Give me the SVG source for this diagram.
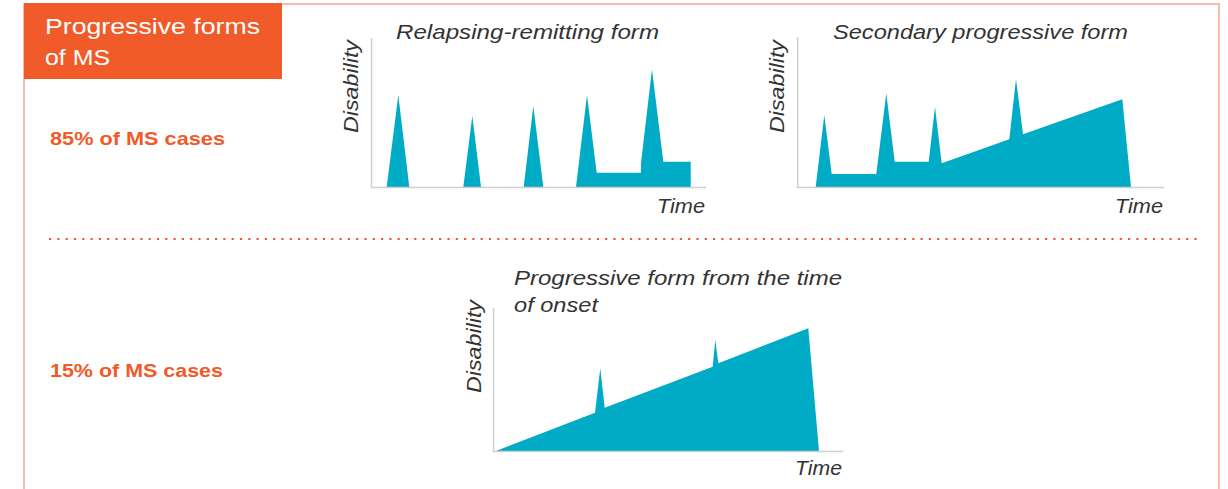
<svg xmlns="http://www.w3.org/2000/svg" width="1228" height="489" viewBox="0 0 1228 489">
<style>
.lbl{font-family:"Liberation Sans",Arial,sans-serif;font-style:italic;font-size:21px;fill:#333;}
.pct{font-family:"Liberation Sans",Arial,sans-serif;font-weight:bold;font-size:19px;fill:#F15A29;}
.hdr{font-family:"Liberation Sans",Arial,sans-serif;font-size:22px;fill:#fff;}
.axis{fill:none;stroke:#cfcfcf;stroke-width:1.5;}
.area{fill:#00ACC5;}
</style>
<rect width="1228" height="489" fill="#fff"/>
<g id="frame" fill="none" stroke="#F6A88C" stroke-width="1.5">
<path d="M24,489 V4 H1219 V489"/>
</g>
<g id="header">
<rect x="24" y="3" width="258" height="76" fill="#F15A29"/>
<text class="hdr" x="45" y="34" textLength="215" lengthAdjust="spacingAndGlyphs">Progressive forms</text>
<text class="hdr" x="45" y="65" textLength="65" lengthAdjust="spacingAndGlyphs">of MS</text>
</g>
<g id="divider">
<line x1="49" y1="239" x2="1197" y2="239" stroke="#F15A29" stroke-width="2.2" stroke-dasharray="2.2 6.1"/>
</g>
<text class="pct" x="50" y="145" textLength="175" lengthAdjust="spacingAndGlyphs">85% of MS cases</text>
<text class="pct" x="50" y="377" textLength="173" lengthAdjust="spacingAndGlyphs">15% of MS cases</text>
<g id="chart-rr">
<path class="area" d="M386.7,187 L398.3,95 L409.3,187 Z M463.3,187 L472.3,116 L481,187 Z M523.7,187 L533.3,106 L543.3,187 Z M576,187 L587,95 L596.7,172.7 L641,172.7 L641,163 L652,69.3 L663.3,161.7 L690.7,161.7 L690.7,187 Z"/>
<path class="axis" d="M371.5,38 V187.5 H706"/>
<text class="lbl" x="396" y="39" textLength="263" lengthAdjust="spacingAndGlyphs">Relapsing-remitting form</text>
<text class="lbl" transform="translate(358,133) rotate(-90)" textLength="93" lengthAdjust="spacingAndGlyphs">Disability</text>
<text class="lbl" x="657" y="213" textLength="48" lengthAdjust="spacingAndGlyphs">Time</text>
</g>
<g id="chart-sp">
<path class="area" d="M815.7,187 L824.3,115 L831.7,174 L876.3,174 L886.3,93.3 L894.7,161.7 L928.7,161.7 L935,106.7 L941.7,163.3 L1009.3,139.3 L1016,79 L1023,134.3 L1122.3,99.3 L1131,187 Z"/>
<path class="axis" d="M797.7,37 V187.5 H1164"/>
<text class="lbl" x="833" y="39" textLength="295" lengthAdjust="spacingAndGlyphs">Secondary progressive form</text>
<text class="lbl" transform="translate(784,133) rotate(-90)" textLength="93" lengthAdjust="spacingAndGlyphs">Disability</text>
<text class="lbl" x="1115" y="213" textLength="48" lengthAdjust="spacingAndGlyphs">Time</text>
</g>
<g id="chart-pp">
<path class="area" d="M496,451 L595,412.7 L600.3,368.3 L604.7,407.7 L712.7,366.7 L715.3,340 L718.3,363.3 L808.3,328.3 L819,451 Z"/>
<path class="axis" d="M493.5,308 V451.5 H843"/>
<text class="lbl" x="514" y="285" textLength="328" lengthAdjust="spacingAndGlyphs">Progressive form from the time</text>
<text class="lbl" x="514" y="312" textLength="84" lengthAdjust="spacingAndGlyphs">of onset</text>
<text class="lbl" transform="translate(481,393) rotate(-90)" textLength="93" lengthAdjust="spacingAndGlyphs">Disability</text>
<text class="lbl" x="795" y="475" textLength="47" lengthAdjust="spacingAndGlyphs">Time</text>
</g>
</svg>
